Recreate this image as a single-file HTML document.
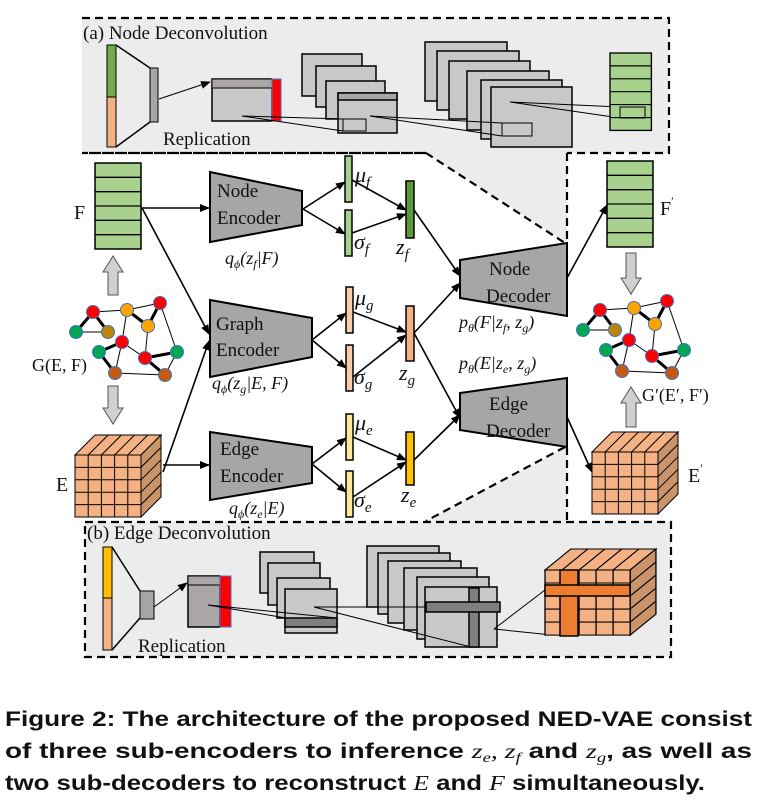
<!DOCTYPE html>
<html><head><meta charset="utf-8"><style>
html,body{margin:0;padding:0;background:#fff;}
svg{display:block;}
.t{font-family:"Liberation Serif",serif;fill:#111;}
.m{font-family:"Liberation Serif",serif;font-style:italic;fill:#111;}
.c{font-family:"Liberation Sans",sans-serif;font-weight:bold;font-size:21px;fill:#111;}
</style></head><body>
<svg width="762" height="811" viewBox="0 0 762 811" xmlns="http://www.w3.org/2000/svg">
<defs>
<marker id="ah" markerWidth="10" markerHeight="8" refX="9" refY="4" orient="auto" markerUnits="userSpaceOnUse">
<path d="M0,0 L10,4 L0,8 z" fill="#000"/></marker>
<g id="fstack"><rect x="0" y="0" width="46" height="86" fill="#a9d18e" stroke="#000" stroke-width="1.5"/>
<path d="M0,14.3H46M0,28.7H46M0,43H46M0,57.3H46M0,71.7H46" stroke="#000" stroke-width="1.3"/></g>
<g id="cube">
<path d="M0,20 L20,0 L86,0 L66,20 z" fill="#f4b183" stroke="#000"/>
<path d="M66,20 L86,0 L86,62 L66,82 z" fill="#c9946a" stroke="#000"/>
<rect x="0" y="20" width="66" height="62" fill="#f4b183" stroke="#000"/>
<path d="M13.2,20V82M26.4,20V82M39.6,20V82M52.8,20V82M0,32.4H66M0,44.8H66M0,57.2H66M0,69.6H66" stroke="#000" stroke-width="1"/>
<path d="M13.2,20L33.2,0M26.4,20L46.4,0M39.6,20L59.6,0M52.8,20L72.8,0M66,32.4L86,12.4M66,44.8L86,24.8M66,57.2L86,37.2M66,69.6L86,49.6" stroke="#000" stroke-width="1"/>
</g>
<g id="graph" stroke="#000">
<g stroke-width="1">
<line x1="93" y1="312" x2="127" y2="310"/><line x1="127" y1="310" x2="160" y2="303"/>
<line x1="160" y1="303" x2="177" y2="352"/><line x1="127" y1="310" x2="122" y2="342"/>
<line x1="122" y1="342" x2="145" y2="358"/><line x1="148" y1="326" x2="145" y2="358"/>
<line x1="115" y1="373" x2="165" y2="375"/><line x1="177" y1="352" x2="165" y2="375"/>
<line x1="76" y1="332" x2="108" y2="332"/><line x1="122" y1="342" x2="115" y2="373"/>
</g>
<g stroke-width="3">
<line x1="93" y1="312" x2="76" y2="332"/><line x1="93" y1="312" x2="108" y2="332"/>
<line x1="127" y1="310" x2="148" y2="326"/><line x1="160" y1="303" x2="148" y2="326"/>
<line x1="99" y1="352" x2="115" y2="373"/><line x1="122" y1="342" x2="99" y2="352"/>
<line x1="145" y1="358" x2="177" y2="352"/><line x1="145" y1="358" x2="165" y2="375"/>
</g>
<g stroke="#4472c4" stroke-width="1">
<circle cx="93" cy="312" r="6.5" fill="#ff0000"/><circle cx="127" cy="310" r="6.5" fill="#ffa500"/>
<circle cx="160" cy="303" r="6.5" fill="#ff0000"/><circle cx="148" cy="326" r="6.5" fill="#ffa500"/>
<circle cx="108" cy="332" r="6.5" fill="#b8860b"/><circle cx="76" cy="332" r="6.5" fill="#00a651"/>
<circle cx="122" cy="342" r="6.5" fill="#ff0000"/><circle cx="99" cy="352" r="6.5" fill="#00a651"/>
<circle cx="145" cy="358" r="6.5" fill="#ff0000"/><circle cx="177" cy="352" r="6.5" fill="#00a651"/>
<circle cx="115" cy="373" r="6.5" fill="#c55a11"/><circle cx="165" cy="375" r="6.5" fill="#c55a11"/>
</g></g>
</defs>

<rect x="82" y="18" width="587" height="135" fill="#ececec"/>
<polygon points="426,153 567,153 567,243" fill="#ececec"/>
<polygon points="567,447 567,521 426,521" fill="#ececec"/>
<rect x="85" y="522" width="586" height="135" fill="#ececec"/>
<g fill="none" stroke="#000" stroke-width="2.2" stroke-dasharray="8,5">
<path d="M82,18 H669 V153 H567 M426,153 H82 Z"/>
<line x1="426" y1="153" x2="565" y2="243"/>
<line x1="567" y1="153" x2="567" y2="243"/>
<line x1="567" y1="447" x2="567" y2="521"/>
<line x1="565" y1="447" x2="426" y2="521"/>
<path d="M85,522 H671 V657 H85 Z"/>
</g>

<text class="t" x="83" y="39" font-size="19">(a) Node Deconvolution</text>
<rect x="107" y="45" width="9" height="52" fill="#70ad47" stroke="#000"/>
<rect x="107" y="97" width="9" height="50" fill="#f4b183" stroke="#000"/>
<line x1="116" y1="45" x2="150" y2="68" stroke="#000" stroke-width="1.5"/>
<line x1="116" y1="147" x2="150" y2="122" stroke="#000" stroke-width="1.5"/>
<rect x="150" y="68" width="8" height="54" fill="#a6a6a6" stroke="#000"/>
<line x1="159" y1="99" x2="210" y2="82" stroke="#000" marker-end="url(#ah)"/>
<rect x="212" y="79" width="60" height="42" fill="#c8c8c8" stroke="#000" stroke-width="1.5"/>
<rect x="212" y="79" width="60" height="9" fill="#aaa6a6" stroke="#000"/>
<rect x="272" y="79" width="9" height="42" fill="#ff0000" stroke="#4472c4"/>
<text class="t" x="163" y="145" font-size="19">Replication</text>
<g fill="#c8c8c8" stroke="#000" stroke-width="1.5">
<rect x="302" y="54" width="60" height="42"/><rect x="316" y="66" width="60" height="41"/>
<rect x="326" y="81" width="59" height="38"/><rect x="338" y="93" width="59" height="40"/>
<rect x="338" y="93" width="59" height="7" fill="#aaa6a6"/>
<rect x="343" y="119" width="23" height="12" stroke-width="1"/>
<rect x="425" y="42" width="82" height="59"/><rect x="437" y="51" width="82" height="59"/>
<rect x="449" y="61" width="81" height="58"/><rect x="467" y="71" width="82" height="59"/>
<rect x="481" y="80" width="81" height="59"/><rect x="491" y="87" width="81" height="60"/>
<rect x="502" y="123" width="30" height="13" stroke-width="1"/>
</g>
<g stroke="#000" stroke-width="1">
<line x1="242" y1="116" x2="343" y2="119"/><line x1="242" y1="116" x2="343" y2="131"/>
<line x1="370" y1="116" x2="502" y2="123"/><line x1="370" y1="116" x2="502" y2="136"/>
<line x1="510" y1="102" x2="620" y2="107"/><line x1="510" y1="102" x2="620" y2="118"/>
</g>
<use href="#fstack" transform="translate(610,53) scale(0.9,0.9)"/>
<rect x="620" y="107" width="25" height="11" fill="none" stroke="#000"/>

<use href="#fstack" x="95" y="163"/>
<text class="t" x="74" y="219" font-size="20">F</text>
<polygon points="103,272 113,256 123,272 118,272 118,295 108,295 108,272" fill="#d0d0d0" stroke="#555"/>
<use href="#graph"/>
<text class="t" x="32" y="371" font-size="18">G(E, F)</text>
<polygon points="103,408 113,424 123,408 118,408 118,386 108,386 108,408" fill="#d0d0d0" stroke="#555"/>
<use href="#cube" x="75" y="435"/>
<text class="t" x="56" y="491" font-size="20">E</text>

<g fill="#a6a6a6" stroke="#000" stroke-width="2">
<polygon points="210,172 302,191 302,225 210,242"/>
<polygon points="210,300 312,318 312,357 210,377"/>
<polygon points="210,432 312,447 312,483 210,500"/>
<polygon points="460,260 567,243 567,316 460,298"/>
<polygon points="460,393 567,378 567,447 460,430"/>
</g>
<g class="t" font-size="19">
<text x="217" y="197">Node</text><text x="217" y="224">Encoder</text>
<text x="216" y="330">Graph</text><text x="216" y="356">Encoder</text>
<text x="220" y="455">Edge</text><text x="220" y="482">Encoder</text>
<text x="489" y="275">Node</text><text x="486" y="302">Decoder</text>
<text x="489" y="410">Edge</text><text x="486" y="437">Decoder</text>
</g>
<g class="m" font-size="18">
<text x="225" y="264">q<tspan font-size="12" dy="4">ϕ</tspan><tspan dy="-4">(z</tspan><tspan font-size="12" dy="4">f</tspan><tspan dy="-4">|F)</tspan></text>
<text x="212" y="389">q<tspan font-size="12" dy="4">ϕ</tspan><tspan dy="-4">(z</tspan><tspan font-size="12" dy="4">g</tspan><tspan dy="-4">|E, F)</tspan></text>
<text x="229" y="514">q<tspan font-size="12" dy="4">ϕ</tspan><tspan dy="-4">(z</tspan><tspan font-size="12" dy="4">e</tspan><tspan dy="-4">|E)</tspan></text>
<text x="459" y="328">p<tspan font-size="12" dy="4">θ</tspan><tspan dy="-4">(F|z</tspan><tspan font-size="12" dy="4">f</tspan><tspan dy="-4">, z</tspan><tspan font-size="12" dy="4">g</tspan><tspan dy="-4">)</tspan></text>
<text x="459" y="369">p<tspan font-size="12" dy="4">θ</tspan><tspan dy="-4">(E|z</tspan><tspan font-size="12" dy="4">e</tspan><tspan dy="-4">, z</tspan><tspan font-size="12" dy="4">g</tspan><tspan dy="-4">)</tspan></text>
</g>

<g stroke="#000" stroke-width="1.5">
<rect x="345" y="156" width="7" height="46" fill="#a9d18e"/>
<rect x="345" y="210" width="7" height="46" fill="#a9d18e"/>
<rect x="406" y="181" width="8" height="57" fill="#5a9a3c"/>
<rect x="346" y="287" width="7" height="46" fill="#f8cbad"/>
<rect x="346" y="345" width="7" height="46" fill="#f8cbad"/>
<rect x="406" y="306" width="8" height="55" fill="#f4b183"/>
<rect x="346" y="414" width="7" height="46" fill="#ffe699"/>
<rect x="346" y="471" width="7" height="46" fill="#ffe699"/>
<rect x="406" y="432" width="8" height="53" fill="#ffc000"/>
</g>
<g class="m" font-size="22">
<text x="355" y="182">μ<tspan font-size="15" dy="5">f</tspan></text>
<text x="354" y="249">σ<tspan font-size="15" dy="5">f</tspan></text>
<text x="396" y="254">z<tspan font-size="15" dy="5">f</tspan></text>
<text x="355" y="305">μ<tspan font-size="15" dy="5">g</tspan></text>
<text x="354" y="384">σ<tspan font-size="15" dy="5">g</tspan></text>
<text x="399" y="380">z<tspan font-size="15" dy="5">g</tspan></text>
<text x="355" y="430">μ<tspan font-size="15" dy="5">e</tspan></text>
<text x="354" y="507">σ<tspan font-size="15" dy="5">e</tspan></text>
<text x="401" y="502">z<tspan font-size="15" dy="5">e</tspan></text>
</g>

<g stroke="#000" stroke-width="1.6" marker-end="url(#ah)" fill="none">
<line x1="141" y1="208" x2="209" y2="208"/>
<line x1="142" y1="208" x2="209" y2="334"/>
<line x1="163" y1="472" x2="209" y2="341"/>
<line x1="163" y1="465" x2="209" y2="465"/>
<line x1="303" y1="209" x2="345" y2="182"/>
<line x1="303" y1="209" x2="345" y2="234"/>
<line x1="352" y1="180" x2="406" y2="210"/>
<line x1="352" y1="233" x2="406" y2="214"/>
<line x1="414" y1="210" x2="460" y2="276"/>
<line x1="312" y1="340" x2="346" y2="313"/>
<line x1="312" y1="340" x2="346" y2="368"/>
<line x1="353" y1="312" x2="406" y2="332"/>
<line x1="353" y1="377" x2="406" y2="335"/>
<line x1="414" y1="333" x2="460" y2="283"/>
<line x1="414" y1="333" x2="460" y2="418"/>
<line x1="312" y1="464" x2="346" y2="438"/>
<line x1="312" y1="464" x2="346" y2="492"/>
<line x1="353" y1="437" x2="406" y2="460"/>
<line x1="353" y1="497" x2="406" y2="462"/>
<line x1="414" y1="460" x2="460" y2="415"/>
<line x1="567" y1="278" x2="607" y2="205"/>
<line x1="567" y1="417" x2="592" y2="472"/>
</g>

<use href="#fstack" x="607" y="161"/>
<text class="t" x="660" y="215" font-size="20">F<tspan font-size="12" dy="-10">′</tspan></text>
<polygon points="621,278 631,294 641,278 636,278 636,253 626,253 626,278" fill="#d0d0d0" stroke="#555"/>
<use href="#graph" x="507" y="-2"/>
<text class="t" x="642" y="401" font-size="18">G′(E′, F′)</text>
<polygon points="621,403 631,387 641,403 636,403 636,427 626,427 626,403" fill="#d0d0d0" stroke="#555"/>
<use href="#cube" x="592" y="432"/>
<text class="t" x="688" y="482" font-size="20">E<tspan font-size="12" dy="-10">′</tspan></text>

<text class="t" x="87" y="539" font-size="19">(b) Edge Deconvolution</text>
<rect x="103" y="547" width="9" height="51" fill="#ffc000" stroke="#000"/>
<rect x="103" y="598" width="9" height="52" fill="#f4b183" stroke="#000"/>
<line x1="112" y1="547" x2="140" y2="591" stroke="#000" stroke-width="1.5"/>
<line x1="112" y1="650" x2="140" y2="618" stroke="#000" stroke-width="1.5"/>
<rect x="140" y="591" width="14" height="28" fill="#a6a6a6" stroke="#000"/>
<line x1="154" y1="607" x2="187" y2="583" stroke="#000" marker-end="url(#ah)"/>
<rect x="188" y="576" width="32" height="51" fill="#aaa6a6" stroke="#000" stroke-width="1.5"/>
<rect x="188" y="576" width="32" height="9" fill="#aaa6a6" stroke="#000"/>
<rect x="220" y="576" width="11" height="51" fill="#ff0000" stroke="#4472c4"/>
<text class="t" x="138" y="652" font-size="19">Replication</text>
<g fill="#c8c8c8" stroke="#000" stroke-width="1.5">
<rect x="260" y="552" width="54" height="41"/><rect x="268" y="563" width="52" height="42"/>
<rect x="277" y="578" width="53" height="40"/><rect x="285" y="589" width="52" height="44"/>
<rect x="285" y="618" width="52" height="9" fill="#7f7f7f"/>
<rect x="367" y="546" width="72" height="61"/><rect x="378" y="553" width="72" height="61"/>
<rect x="388" y="561" width="73" height="62"/><rect x="404" y="568" width="73" height="62"/>
<rect x="417" y="577" width="72" height="62"/><rect x="425" y="587" width="72" height="60"/>
<rect x="469" y="588" width="10" height="59" fill="#7f7f7f"/>
<rect x="426" y="602" width="74" height="10" fill="#7f7f7f"/>
</g>
<g stroke="#000" stroke-width="1">
<line x1="208" y1="605" x2="286" y2="618"/><line x1="208" y1="605" x2="337" y2="618"/>
<line x1="314" y1="607" x2="426" y2="607"/><line x1="314" y1="607" x2="471" y2="647"/>
<line x1="494" y1="629" x2="545" y2="590"/><line x1="494" y1="629" x2="552" y2="635"/>
</g>
<g transform="translate(545,549)">
<use href="#cube" transform="scale(1.29,1.05)"/>
</g>
<rect x="560" y="570" width="18" height="66" fill="#ed7d31" stroke="#000" stroke-width="1.5"/>
<rect x="545" y="585" width="85" height="11" fill="#ed7d31" stroke="#000" stroke-width="1.5"/>

<text class="c" x="5" y="726" textLength="747" lengthAdjust="spacingAndGlyphs">Figure 2: The architecture of the proposed NED-VAE consist</text>
<text class="c" x="5" y="758" textLength="747" lengthAdjust="spacingAndGlyphs">of three sub-encoders to inference <tspan font-family="Liberation Serif" font-style="italic" font-weight="normal">z<tspan font-size="14" dy="4">e</tspan><tspan dy="-4">, z</tspan><tspan font-size="14" dy="4">f</tspan></tspan><tspan dy="-4"> and </tspan><tspan font-family="Liberation Serif" font-style="italic" font-weight="normal">z<tspan font-size="14" dy="4">g</tspan></tspan><tspan dy="-4">, as well as</tspan></text>
<text class="c" x="5" y="790" textLength="700" lengthAdjust="spacingAndGlyphs">two sub-decoders to reconstruct <tspan font-family="Liberation Serif" font-style="italic" font-weight="normal">E</tspan> and <tspan font-family="Liberation Serif" font-style="italic" font-weight="normal">F</tspan> simultaneously.</text>
</svg>
</body></html>
